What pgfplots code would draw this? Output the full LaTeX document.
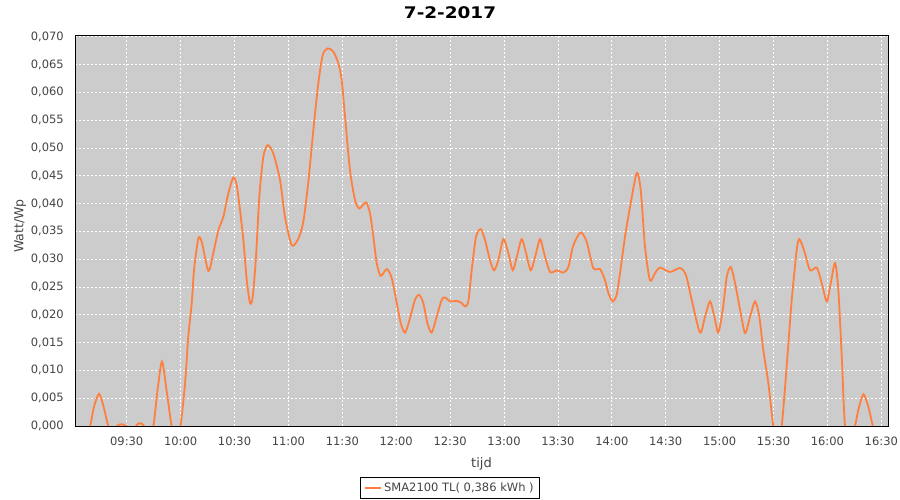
\documentclass[border=0pt]{standalone}
\usepackage{fontspec}
\setmainfont{DejaVu Sans}
\newfontfamily\titlefont{DejaVu Sans}[FakeStretch=1.15]
\usepackage{pgfplots}
\pgfplotsset{compat=1.18}
\definecolor{plotbg}{RGB}{204,204,204}
\definecolor{serie}{RGB}{255,127,63}
\definecolor{labelgray}{RGB}{68,68,68}
\definecolor{axgray}{RGB}{128,128,128}

\begin{document}
\begin{tikzpicture}
\useasboundingbox (0,0) rectangle (900pt,500pt);
\begin{axis}[
    at={(75pt,74pt)}, anchor=south west,
    scale only axis,
    width=813pt, height=391pt,
    xmin=9.02, xmax=16.562,
    ymin=0, ymax=0.07031,
    axis background/.style={fill=plotbg},
    axis line style={black, line width=0.8pt},
    xtick={9.5,10,10.5,11,11.5,12,12.5,13,13.5,14,14.5,15,15.5,16,16.5},
    xticklabels={09:30,10:00,10:30,11:00,11:30,12:00,12:30,13:00,13:30,14:00,14:30,15:00,15:30,16:00,16:30},
    ytick={0,0.005,0.01,0.015,0.02,0.025,0.03,0.035,0.04,0.045,0.05,0.055,0.06,0.065,0.07},
    yticklabel={\pgfmathprintnumber[fixed,fixed zerofill,precision=3,use comma,assume math mode=true]{\tick}},
    scaled y ticks=false,
    major tick length=0pt,
    tick style={draw=none},
    tick label style={font=\fontsize{11.5}{13}\selectfont, text=labelgray, inner sep=0pt},
    yticklabel style={anchor=east, xshift=-11pt},
    xticklabel style={anchor=north, yshift=-11pt},
    grid=major,
    major grid style={white, line width=0.8pt, dash pattern=on 2pt off 2pt},
    title={7-2-2017},
    title style={at={(axis description cs:0.4613,1)}, anchor=base, yshift=10pt, inner sep=0pt,
                 font=\titlefont\bfseries\fontsize{16}{18}\selectfont},
    xlabel={tijd},
    xlabel style={at={(axis description cs:0.5,0)}, anchor=north, yshift=-31pt, inner sep=0pt,
                  font=\fontsize{13}{15}\selectfont, text=labelgray},
    ylabel={Watt/Wp},
    ylabel style={at={(axis description cs:0,0.5115)}, anchor=center, yshift=55pt, inner sep=0pt,
                  font=\fontsize{12.5}{15}\selectfont, text=labelgray},
    legend style={at={(axis description cs:0.4613,0)}, anchor=north, yshift=-51pt,
                  draw=black, line width=0.8pt, inner sep=3pt, fill=white,
                  font=\fontsize{11.5}{13}\selectfont, text=labelgray,
                  nodes={inner sep=2.5pt}},
    legend image code/.code={\draw[#1] (0pt,0pt) -- (16pt,0pt);},
]
\addplot[serie, line width=1.8pt, smooth, tension=0.45] coordinates {
(9.113,-0.002) (9.160,0) (9.197,0.0035) (9.243,0.0058) (9.285,0.0035) (9.329,0)
(9.382,-0.002) (9.410,0) (9.454,0.0003) (9.494,0) (9.540,-0.002) (9.586,0)
(9.623,0.0005) (9.660,0) (9.698,-0.003) (9.747,0) (9.786,0.0065) (9.827,0.0116)
(9.869,0.0065) (9.916,0) (9.957,-0.003) (9.999,0) (10.041,0.0077) (10.071,0.0161)
(10.103,0.0221) (10.124,0.0280) (10.164,0.0337) (10.196,0.0331) (10.257,0.0279)
(10.303,0.0311) (10.350,0.0352) (10.396,0.0376) (10.442,0.0418) (10.489,0.0447)
(10.520,0.0433) (10.551,0.0388) (10.582,0.0334) (10.613,0.0263) (10.644,0.0221)
(10.669,0.0233) (10.699,0.0304) (10.730,0.0412) (10.767,0.0484) (10.808,0.0505)
(10.860,0.0490) (10.922,0.0442) (10.968,0.0376) (11.031,0.0325) (11.092,0.0337)
(11.138,0.0367) (11.185,0.0440) (11.231,0.0532) (11.277,0.0616) (11.318,0.0667)
(11.365,0.0679) (11.417,0.0673) (11.463,0.0652) (11.494,0.0622) (11.525,0.0556)
(11.571,0.0460) (11.618,0.0406) (11.658,0.0391) (11.720,0.0402) (11.757,0.0382)
(11.788,0.0340) (11.819,0.0293) (11.856,0.0270) (11.912,0.0282) (11.958,0.0266)
(12.005,0.0221) (12.042,0.0185) (12.082,0.0168) (12.128,0.0194) (12.174,0.0227)
(12.212,0.0236) (12.251,0.0221) (12.289,0.0185) (12.329,0.0168) (12.376,0.0197)
(12.422,0.0227) (12.453,0.0231) (12.499,0.0224) (12.561,0.0225) (12.608,0.0221)
(12.638,0.0215) (12.669,0.0224) (12.700,0.0280) (12.740,0.0340) (12.784,0.0354)
(12.824,0.0334) (12.870,0.0298) (12.907,0.0280) (12.947,0.0298) (12.994,0.0336)
(13.040,0.0311) (13.081,0.0280) (13.118,0.0304) (13.164,0.0336) (13.204,0.0311)
(13.248,0.0280) (13.288,0.0304) (13.334,0.0336) (13.371,0.0311) (13.427,0.0277)
(13.489,0.0280) (13.550,0.0276) (13.597,0.0286) (13.643,0.0325) (13.711,0.0348)
(13.767,0.0331) (13.828,0.0284) (13.891,0.0282) (13.937,0.0262) (13.968,0.0239)
(14.008,0.0224) (14.045,0.0236) (14.076,0.0275) (14.122,0.0340) (14.169,0.0394)
(14.231,0.0455) (14.268,0.0424) (14.308,0.0322) (14.354,0.0262) (14.401,0.0275)
(14.447,0.0285) (14.540,0.0277) (14.633,0.0284) (14.688,0.0271) (14.741,0.0227)
(14.818,0.0168) (14.865,0.0197) (14.911,0.0224) (14.951,0.0197) (14.988,0.0168)
(15.029,0.0209) (15.066,0.0268) (15.103,0.0286) (15.143,0.0257) (15.190,0.0209)
(15.236,0.0167) (15.283,0.0197) (15.329,0.0224) (15.368,0.0197) (15.405,0.0137)
(15.452,0.0077) (15.498,0) (15.537,-0.003) (15.576,0) (15.622,0.0107)
(15.669,0.0227) (15.715,0.0316) (15.739,0.0336) (15.783,0.0316) (15.839,0.0280)
(15.901,0.0285) (15.947,0.0257) (15.994,0.0224) (16.031,0.0257) (16.071,0.0293)
(16.101,0.0245) (16.133,0.0125) (16.163,0) (16.210,-0.003) (16.256,0)
(16.287,0.0029) (16.333,0.0057) (16.379,0.0035) (16.420,0) (16.441,-0.002)
};
\addlegendentry{SMA2100 TL( 0,386 kWh )}
% offset gray axis lines with outward ticks
\draw[axgray, line width=0.8pt] ([xshift=-4pt]rel axis cs:0,0) -- ([xshift=-4pt]rel axis cs:0,1);
\draw[axgray, line width=0.8pt] ([yshift=-4pt]rel axis cs:0,0) -- ([yshift=-4pt]rel axis cs:1,0);
\pgfplotsinvokeforeach{0,0.005,0.01,0.015,0.02,0.025,0.03,0.035,0.04,0.045,0.05,0.055,0.06,0.065,0.07}{
  \draw[axgray, line width=0.8pt] ([xshift=-4pt]axis cs:9.02,#1) -- ([xshift=-7pt]axis cs:9.02,#1);
}
\pgfplotsinvokeforeach{9.5,10,10.5,11,11.5,12,12.5,13,13.5,14,14.5,15,15.5,16,16.5}{
  \draw[axgray, line width=0.8pt] ([yshift=-4pt]axis cs:#1,0) -- ([yshift=-7pt]axis cs:#1,0);
}
\end{axis}
\end{tikzpicture}
\end{document}
